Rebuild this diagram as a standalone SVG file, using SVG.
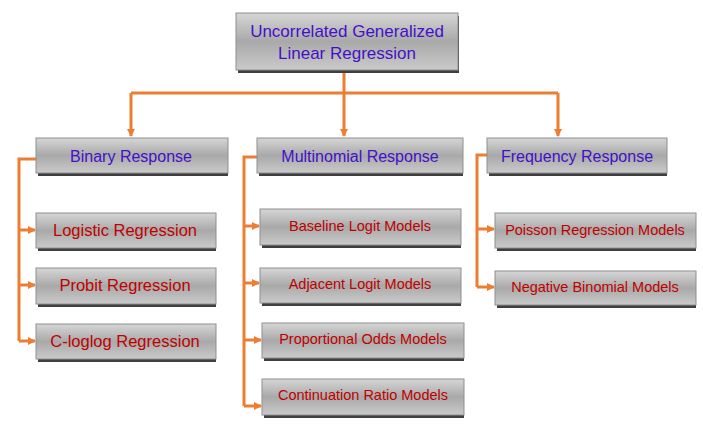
<svg xmlns="http://www.w3.org/2000/svg" width="703" height="431" viewBox="0 0 703 431">
<defs>
<linearGradient id="g" x1="0" y1="0" x2="0" y2="1">
<stop offset="0" stop-color="#d6d6d6"/>
<stop offset="0.5" stop-color="#a9a9a9"/>
<stop offset="1" stop-color="#cacaca"/>
</linearGradient>
<marker id="ah" markerWidth="8" markerHeight="8" refX="7" refY="4" orient="auto" markerUnits="userSpaceOnUse">
<path d="M0,0 L8,4 L0,8 z" fill="#ED7D31"/>
</marker>
<style>
.box{fill:url(#g);stroke:#8f8f8f;stroke-width:1}
.sh{fill:#3f3f3f}
.t1{font-family:"Liberation Sans",Arial,sans-serif;fill:#4410C8;text-anchor:middle}
.t2{font-family:"Liberation Sans",Arial,sans-serif;fill:#C00000;text-anchor:middle}
.c{fill:none;stroke:#ED7D31;stroke-width:3}
</style>
</defs>
<rect width="703" height="431" fill="#ffffff"/>
<g id="connectors">
<path class="c" d="M344,70 V93"/>
<path class="c" d="M131,93 H558"/>
<path class="c" d="M131,93 V136" marker-end="url(#ah)"/>
<path class="c" d="M344,93 V136" marker-end="url(#ah)"/>
<path class="c" d="M558,93 V136" marker-end="url(#ah)"/>
<path class="c" d="M36,159 H19 V341"/>
<path class="c" d="M19,230 H35" marker-end="url(#ah)"/>
<path class="c" d="M19,285 H35" marker-end="url(#ah)"/>
<path class="c" d="M19,341 H35" marker-end="url(#ah)"/>
<path class="c" d="M257,157 H244 V406"/>
<path class="c" d="M244,226 H259" marker-end="url(#ah)"/>
<path class="c" d="M244,283 H259" marker-end="url(#ah)"/>
<path class="c" d="M244,340 H261" marker-end="url(#ah)"/>
<path class="c" d="M244,406 H261" marker-end="url(#ah)"/>
<path class="c" d="M487,155 H477 V287"/>
<path class="c" d="M477,229 H494" marker-end="url(#ah)"/>
<path class="c" d="M477,287 H494" marker-end="url(#ah)"/>
</g>
<g id="root">
<rect class="sh" x="238" y="16" width="221" height="57"/>
<rect class="box" x="236" y="13" width="222" height="57"/>
<text class="t1" x="347" y="37" font-size="17">Uncorrelated Generalized</text>
<text class="t1" x="347" y="59" font-size="17">Linear Regression</text>
</g>
<g id="binary">
<rect class="sh" x="38" y="141" width="190" height="35"/>
<rect class="box" x="36" y="138" width="192" height="35"/>
<text class="t1" x="131" y="162" font-size="16">Binary Response</text>
</g>
<g id="multinomial">
<rect class="sh" x="259" y="141" width="204" height="35"/>
<rect class="box" x="257" y="138" width="206" height="35"/>
<text class="t1" x="360" y="162" font-size="16">Multinomial Response</text>
</g>
<g id="frequency">
<rect class="sh" x="489" y="141" width="178" height="35"/>
<rect class="box" x="487" y="138" width="180" height="35"/>
<text class="t1" x="577" y="162" font-size="16">Frequency Response</text>
</g>
<g id="logistic">
<rect class="sh" x="38" y="216" width="178" height="35"/>
<rect class="box" x="36" y="213" width="180" height="35"/>
<text class="t2" x="125" y="236" font-size="16.5">Logistic Regression</text>
</g>
<g id="probit">
<rect class="sh" x="38" y="271" width="178" height="36"/>
<rect class="box" x="36" y="268" width="180" height="36"/>
<text class="t2" x="125" y="291" font-size="16.5">Probit Regression</text>
</g>
<g id="cloglog">
<rect class="sh" x="38" y="327" width="178" height="35"/>
<rect class="box" x="36" y="324" width="180" height="35"/>
<text class="t2" x="125" y="347" font-size="16.5">C-loglog Regression</text>
</g>
<g id="baseline">
<rect class="sh" x="262" y="212" width="199" height="36"/>
<rect class="box" x="260" y="209" width="201" height="36"/>
<text class="t2" x="360" y="231" font-size="14.5">Baseline Logit Models</text>
</g>
<g id="adjacent">
<rect class="sh" x="262" y="271" width="199" height="35"/>
<rect class="box" x="260" y="268" width="201" height="35"/>
<text class="t2" x="360" y="289" font-size="14.5">Adjacent Logit Models</text>
</g>
<g id="proportional">
<rect class="sh" x="264" y="326" width="200" height="35"/>
<rect class="box" x="262" y="323" width="202" height="35"/>
<text class="t2" x="363" y="344" font-size="14.5">Proportional Odds Models</text>
</g>
<g id="continuation">
<rect class="sh" x="264" y="382" width="200" height="36"/>
<rect class="box" x="262" y="379" width="202" height="36"/>
<text class="t2" x="363" y="400" font-size="14.5">Continuation Ratio Models</text>
</g>
<g id="poisson">
<rect class="sh" x="497" y="216" width="199" height="35"/>
<rect class="box" x="495" y="213" width="201" height="35"/>
<text class="t2" x="595" y="235" font-size="14.5">Poisson Regression Models</text>
</g>
<g id="negbin">
<rect class="sh" x="497" y="274" width="199" height="34"/>
<rect class="box" x="495" y="271" width="201" height="34"/>
<text class="t2" x="595" y="292" font-size="14.5">Negative Binomial Models</text>
</g>
</svg>
